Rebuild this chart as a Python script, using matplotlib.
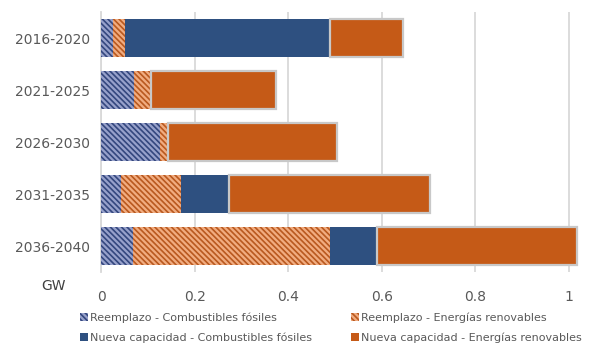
import matplotlib
matplotlib.use("Agg")
import matplotlib.pyplot as plt
from matplotlib.patches import Patch
import numpy as np

categories = ["2016-2020", "2021-2025", "2026-2030", "2031-2035", "2036-2040"]
repl_fossil = [0.026, 0.071, 0.126, 0.043, 0.069]
repl_renew = [0.025, 0.036, 0.018, 0.129, 0.420]
new_fossil = [0.438, 0.0, 0.0, 0.102, 0.101]
new_renew = [0.157, 0.266, 0.361, 0.428, 0.428]
x_ticks = [0, 0.2, 0.4, 0.6, 0.8, 1.0]
x_tick_labels = ["0", "0.2", "0.4", "0.6", "0.8", "1"]
series_names = [
    "Reemplazo - Combustibles fósiles",
    "Reemplazo - Energías renovables",
    "Nueva capacidad - Combustibles fósiles",
    "Nueva capacidad - Energías renovables",
]

TEXT = "#595959"
GRID = "#D9D9D9"
NAVY = "#2E5080"
ORANGE = "#C55A17"
FOSSIL_BASE, FOSSIL_STRIPE = "#97A1CB", "#34477E"
RENEW_BASE, RENEW_STRIPE = "#F1AC80", "#B9591F"
HATCH = "\\" * 6

plt.rcParams["font.family"] = ["DejaVu Sans"]
plt.rcParams["hatch.linewidth"] = 1.2

fig = plt.figure(figsize=(5.97, 3.48), dpi=100)
ax = fig.add_axes([101 / 597, 1 - 272 / 348, (583 - 101) / 597, 260 / 348])

y = np.arange(len(categories))
h = 0.73
left = np.zeros(len(categories))

ax.barh(y, repl_fossil, height=h, left=left, color=FOSSIL_BASE,
        edgecolor=FOSSIL_STRIPE, linewidth=0, hatch=HATCH, zorder=3)
left += repl_fossil
ax.barh(y, repl_renew, height=h, left=left, color=RENEW_BASE,
        edgecolor=RENEW_STRIPE, linewidth=0, hatch=HATCH, zorder=3)
left += repl_renew
ax.barh(y, new_fossil, height=h, left=left, color=NAVY, linewidth=0, zorder=3)
left += new_fossil
ax.barh(y, new_renew, height=h, left=left, color=ORANGE,
        edgecolor="#C8C8C8", linewidth=1.6, zorder=4)

ax.set_xlim(0, 1.03)
ax.set_ylim(len(categories) - 0.5, -0.5)
ax.set_yticks(y)
ax.set_yticklabels(categories)
ax.set_xticks(x_ticks)
ax.set_xticklabels(x_tick_labels)
ax.tick_params(axis="both", length=0, labelsize=10, labelcolor=TEXT)
ax.tick_params(axis="x", pad=13)
ax.tick_params(axis="y", pad=8)
ax.grid(axis="x", color=GRID, linewidth=1.3, zorder=0)
for s in ["top", "right", "bottom"]:
    ax.spines[s].set_visible(False)
ax.spines["left"].set_color(GRID)
ax.spines["left"].set_linewidth(1.3)

fig.text(53 / 597, 1 - 286 / 348, "GW", ha="center", va="center",
         fontsize=10, color="#404040")

handles = [
    Patch(facecolor=FOSSIL_BASE, edgecolor=FOSSIL_STRIPE, linewidth=0, hatch=HATCH),
    Patch(facecolor=NAVY, linewidth=0),
    Patch(facecolor=RENEW_BASE, edgecolor=RENEW_STRIPE, linewidth=0, hatch=HATCH),
    Patch(facecolor=ORANGE, linewidth=0),
]
labels = [series_names[0], series_names[2], series_names[1], series_names[3]]
leg = fig.legend(handles, labels, ncol=2, loc="center left",
                 bbox_to_anchor=(80 / 597, 1 - 327.5 / 348), frameon=False,
                 fontsize=8, handlelength=0.72, handleheight=0.72,
                 handletextpad=0.2, columnspacing=3.5, labelspacing=0.85,
                 borderpad=0, borderaxespad=0)
for t in leg.get_texts():
    t.set_color(TEXT)

fig.savefig("out.png", dpi=100)
